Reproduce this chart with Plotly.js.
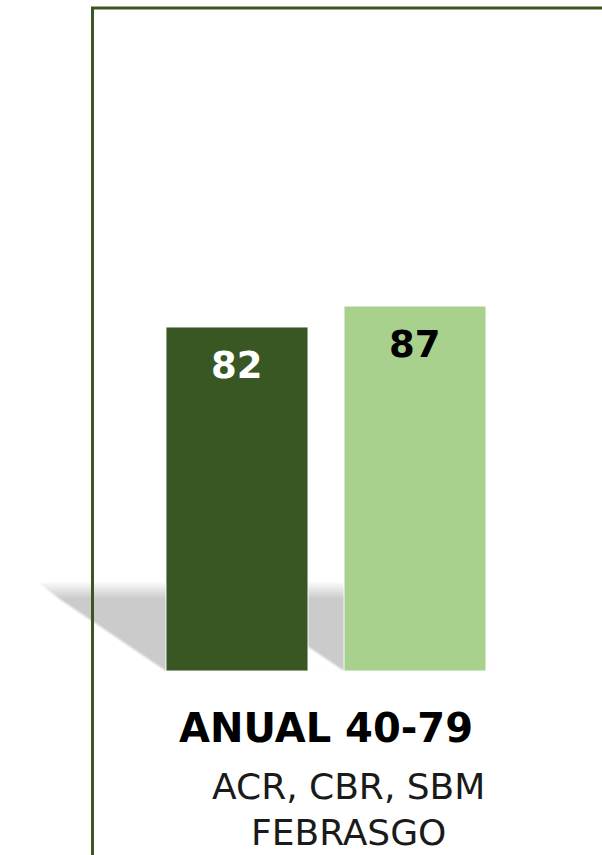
<!DOCTYPE html>
<html>
<head>
<meta charset="utf-8">
<script src="https://cdn.plot.ly/plotly-3.0.1.min.js"></script>
<style>
html,body{margin:0;padding:0;background:#fff;}
#chart{width:602px;height:855px;}
</style>
</head>
<body>
<div id="chart"></div>
<script>
// ---- data ----
var categories = ["ANUAL 40-79"];
var seriesNames = ["Série 1", "Série 2"];
var values1 = [82];
var values2 = [87];
var subtitleLines = ["ACR, CBR, SBM", "FEBRASGO"];

// ---- style ----
var darkGreen = "#385723";
var lightGreen = "#A9D18E";
var barWidth = 0.3034;
var barOffsets = [-0.3419, 0.0385];
var xRange = [-0.6325, 0.5641];
var fontMain = "DejaVu Sans, Inter, sans-serif";

var traces = [
  {type: "bar", name: seriesNames[0], x: categories, y: values1,
   width: barWidth, offset: barOffsets[0],
   marker: {color: darkGreen, line: {color: "rgba(255,255,255,0.9)", width: 1}},
   hoverinfo: "y"},
  {type: "bar", name: seriesNames[1], x: categories, y: values2,
   width: barWidth, offset: barOffsets[1],
   marker: {color: lightGreen, line: {color: "rgba(255,255,255,0.9)", width: 1}},
   hoverinfo: "y"}
];

// soft shadows cast to the left of each bar (layered for a blurred edge)
var shadowTop = 19.3;      // value units
var shadowSlant = 0.256;   // category units
var shapes = [];
var layers = [];
for (var k = -8; k <= 8; k += 2) layers.push(k);
[0, 1].forEach(function (i) {
  var x0 = barOffsets[i], x1 = barOffsets[i] + barWidth;
  layers.forEach(function (off) {
    var dy = off / 4.195, dx = off / 468 * 1.1;
    var p = "M " + (x0 - shadowSlant - dx) + "," + (shadowTop + dy) +
            " L " + x1 + "," + (shadowTop + dy) +
            " L " + x1 + ",0 L " + (x0 + dx * 0.3) + ",0 Z";
    shapes.push({type: "path", xref: "x2", yref: "y", path: p, layer: "below",
      fillcolor: "rgba(0,0,0,0.024)", line: {width: 0}});
  });
});
// faint ground line
shapes.push({type: "line", xref: "x2", yref: "y", x0: -0.376, x1: 0.361, y0: -0.3, y1: -0.3,
  layer: "below", line: {color: "rgba(0,0,0,0.06)", width: 3}});
// frame
shapes.push({type: "rect", xref: "paper", yref: "paper", x0: 0.1116, x1: 1.5, y0: -0.6, y1: 1.0,
  line: {color: darkGreen, width: 3}, fillcolor: "rgba(0,0,0,0)"});

var annotations = [
  {xref: "x2", yref: "y", x: barOffsets[0] + barWidth / 2, y: values1[0], yanchor: "middle",
   yshift: -38, text: "<b>" + values1[0] + "</b>", showarrow: false,
   font: {family: fontMain, size: 37, color: "#ffffff"}},
  {xref: "x2", yref: "y", x: barOffsets[1] + barWidth / 2, y: values2[0], yanchor: "middle",
   yshift: -38, text: "<b>" + values2[0] + "</b>", showarrow: false,
   font: {family: fontMain, size: 37, color: "#000000"}},
  {xref: "paper", yref: "paper", x: 0.5696, y: -0.1735, xanchor: "center", yanchor: "middle",
   text: subtitleLines[0], showarrow: false,
   font: {family: fontMain, size: 36, color: "#1a1a1a"}},
  {xref: "paper", yref: "paper", x: 0.5696, y: -0.2443, xanchor: "center", yanchor: "middle",
   text: subtitleLines[1], showarrow: false,
   font: {family: fontMain, size: 36, color: "#1a1a1a"}}
];

var layout = {
  width: 602, height: 855,
  margin: {l: 30, r: 12, t: 8, b: 184, pad: 0},
  paper_bgcolor: "#ffffff", plot_bgcolor: "rgba(0,0,0,0)",
  showlegend: false,
  barmode: "group",
  xaxis: {type: "category", range: xRange, showgrid: false, zeroline: false,
    showline: false, ticks: "", ticklabelstandoff: 30,
    tickvals: categories, ticktext: categories.map(function (c) { return "<b>" + c + "</b>"; }),
    tickfont: {family: fontMain, size: 40, color: "#000000"}},
  xaxis2: {overlaying: "x", anchor: "y", range: xRange, visible: false},
  yaxis: {range: [0, 158.05], visible: false, showgrid: false, zeroline: false},
  shapes: shapes,
  annotations: annotations
};

Plotly.newPlot("chart", traces, layout, {displayModeBar: false, staticPlot: true});
</script>
</body>
</html>
